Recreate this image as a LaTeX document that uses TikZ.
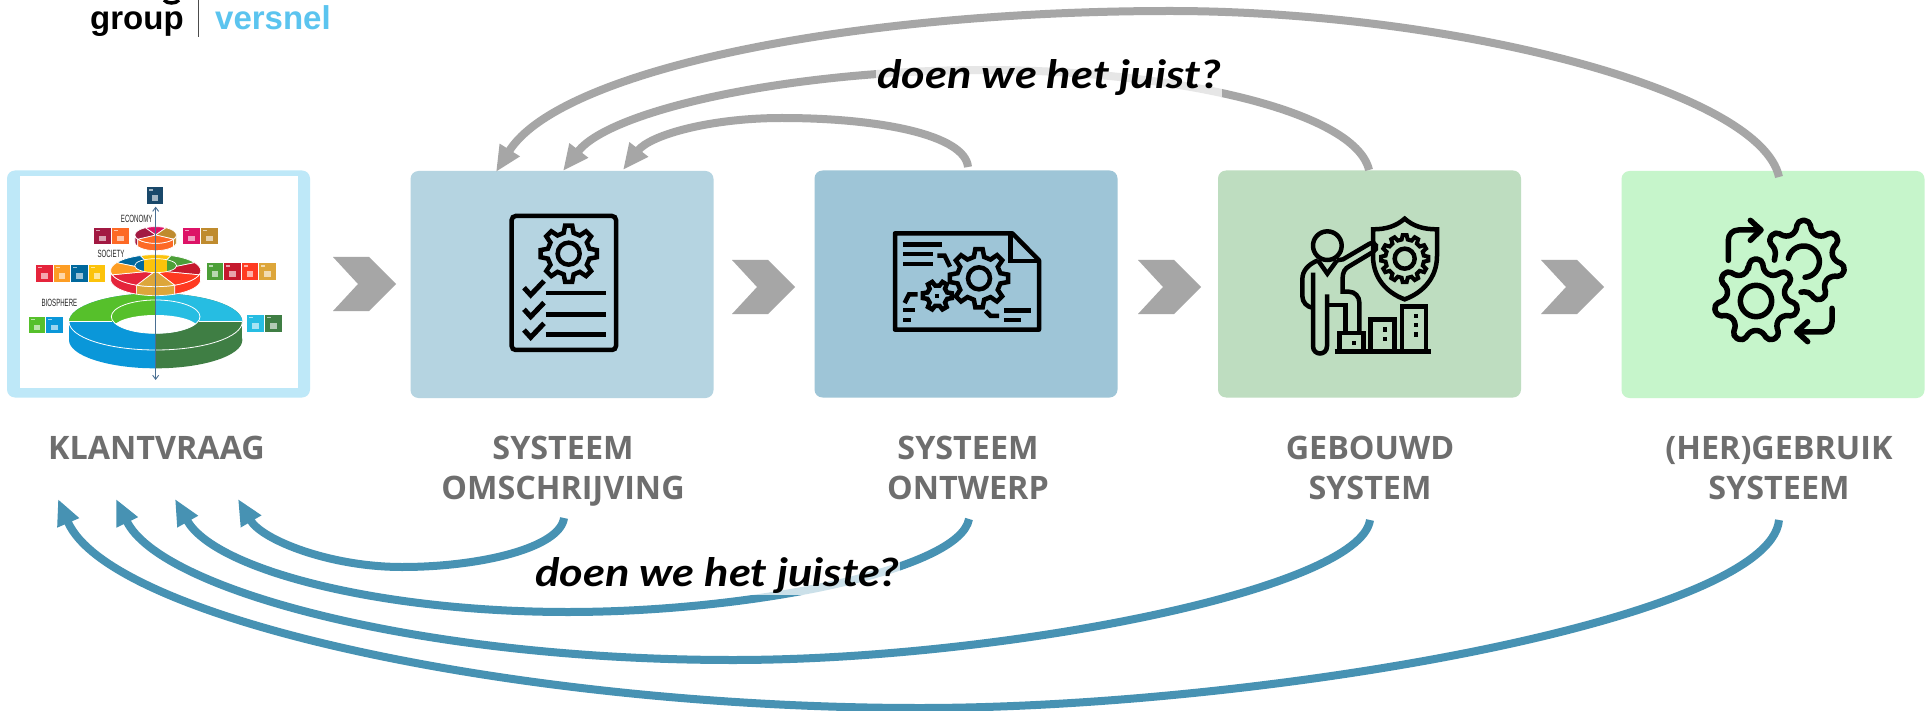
\documentclass[tikz,border=0pt]{standalone}
\usepackage{fontspec}
\usetikzlibrary{arrows.meta}
\setmainfont{Open Sans}
\newfontfamily\logofont{Liberation Sans}
\newfontfamily\handfont{Lato}
\definecolor{boxa}{HTML}{BEE8F8}
\definecolor{boxb}{HTML}{B5D4E1}
\definecolor{boxc}{HTML}{9EC5D7}
\definecolor{boxd}{HTML}{BEDDC0}
\definecolor{boxe}{HTML}{C6F5CB}
\definecolor{greyarrow}{HTML}{A6A6A6}
\definecolor{bluearrow}{HTML}{4792B3}
\definecolor{labelgrey}{HTML}{6E6E6E}
\definecolor{logoblue}{HTML}{5BC4EF}
\definecolor{HTMLblue}{HTML}{0A97D9}
\definecolor{HTMLgreen}{HTML}{56C02B}
\definecolor{HTMLdark}{HTML}{3F7E44}
\definecolor{HTMLcyan}{HTML}{26BDE2}
\definecolor{HTMLred}{HTML}{E5243B}
\definecolor{HTMLgold}{HTML}{DDA63A}
\definecolor{HTMLflame}{HTML}{FF3A21}
\definecolor{HTMLyellow}{HTML}{FCC30B}
\definecolor{HTMLsea}{HTML}{00689D}
\definecolor{HTMLgrass}{HTML}{4C9F38}
\definecolor{HTMLcrim}{HTML}{C5192D}
\definecolor{HTMLamber}{HTML}{FD9D24}
\definecolor{HTMLmaroon}{HTML}{A21942}
\definecolor{HTMLorange}{HTML}{FD6925}
\definecolor{HTMLochre}{HTML}{BF8B2E}
\definecolor{HTMLpink}{HTML}{DD1367}
\definecolor{HTMLaxis}{HTML}{4A6F92}
\definecolor{HTMLnavy}{HTML}{19486A}
\tikzset{
  stagebox/.style={minimum width=303pt,minimum height=227pt,inner sep=0pt,rounded corners=8pt,draw=none},
  stagelabel/.style={font=\bfseries\fontsize{32.3}{39.5}\selectfont,text=labelgrey,align=center,inner sep=0pt,anchor=north},
  loopgrey/.style={line width=8pt,draw=greyarrow,-{Triangle[length=26pt,width=22pt]}},
  loopblue/.style={line width=8pt,draw=bluearrow,-{Triangle[length=26pt,width=22pt]}},
  chevronshape/.style={fill=greyarrow,draw=none},
  iconline/.style={draw=black,line width=4.5pt,miter limit=10,fill=none},
  handtext/.style={font=\handfont\bfseries\itshape\fontsize{39}{39}\selectfont,text=black,fill=white,fill opacity=.72,text opacity=1,inner sep=1pt,xscale=1.16},
  cakelabel/.style={font=\logofont\fontsize{10.5}{10.5}\selectfont,text=black!85,inner sep=0pt,xscale=.58},
  logotext/.style={font=\logofont\bfseries\fontsize{33}{33}\selectfont,inner sep=0pt,anchor=base west}
}
% cx cy rout rin teeth rotation
\newcommand\gearicon[7][]{%
  \begin{scope}[shift={(#2,#3)}]
    \pgfmathsetmacro\gst{360/#6}
    \draw[iconline,#1] ({#7-.30*\gst}:#5)
      \foreach \k in {1,...,#6} {
        -- ({#7+(\k-1)*\gst-.30*\gst}:#5)
        -- ({#7+(\k-1)*\gst-.16*\gst}:#4)
        -- ({#7+(\k-1)*\gst+.16*\gst}:#4)
        -- ({#7+(\k-1)*\gst+.30*\gst}:#5)
      } -- cycle;
  \end{scope}}
\newcommand\chevronat[2]{% left x, top y
  \fill[chevronshape] (#1,#2) -- ++(36,0) -- ++(27,27) -- ++(-27,27) -- ++(-36,0) -- ++(25,-27) -- cycle;}
\newcommand\sdgtile[3]{%
  \fill[#3] (#1,#2) rectangle ++(50,50);
  \fill[white,opacity=.6] ({#1+6},{#2+6}) rectangle ++(12,4);
  \fill[white,opacity=.6] ({#1+15},{#2+24}) rectangle ++(20,17);}
% cx cy rx ry a1 a2 colour
\newcommand\cakewedge[7]{%
  \filldraw[fill=#7,draw=white,line width=.7pt] (#1,#2) -- plot[domain=#5:#6,samples=14] ({#1+#3*cos(\x)},{#2+#4*sin(\x)}) -- cycle;}
% cx cy rx ry a1 a2 colour thickness
\newcommand\cakeside[8]{%
  \filldraw[fill=#7,draw=white,line width=.7pt] plot[domain=#5:#6,samples=14] ({#1+#3*cos(\x)},{#2+#4*sin(\x)}) -- plot[domain=#6:#5,samples=14] ({#1+#3*cos(\x)},{#2+#8+#4*sin(\x)}) -- cycle;}
\begin{document}
\begin{tikzpicture}[x=1pt,y=-1pt]
\useasboundingbox (0,0) rectangle (1932,711);
\fill[white] (0,0) rectangle (1932,711);

% logo
\draw[black,line width=3.5pt] (164,0) .. controls (167,4) and (176,4) .. (179,0);
\node[logotext,text=black] (lgroup) at (90,30) {group};
\draw[black!70,line width=1pt] (198,0) -- (198,37);
\node[logotext,text=logoblue] (lversnel) at (215,30) {versnel};

% boxes
\node[stagebox,fill=boxa] (box1) at (158.5,284) {};
\node[stagebox,fill=boxb] (box2) at (562,284.5) {};
\node[stagebox,fill=boxc] (box3) at (966,284) {};
\node[stagebox,fill=boxd] (box4) at (1369.5,284) {};
\node[stagebox,fill=boxe] (box5) at (1773,284.5) {};

% chevrons
\chevronat{333}{257}
\chevronat{732}{260}
\chevronat{1138}{260}
\chevronat{1541}{260}

% SDG cake picture
\begin{scope}[scale=1/3]
  \fill[white] (60,528) rectangle (895,1165);
  % biosphere
  \begin{scope}
    \clip (0,0) rectangle (467,1300);
    \fill[HTMLblue] (467,1020) ellipse [x radius=260,y radius=85];
    \fill[HTMLblue] (207,965) rectangle (467,1020);
    \fill[HTMLblue] (467,965) ellipse [x radius=260,y radius=85];
    \begin{scope}
      \clip (0,0) rectangle (467,965);
      \fill[HTMLgreen] (467,965) ellipse [x radius=260,y radius=85];
    \end{scope}
  \end{scope}
  \begin{scope}
    \clip (467,0) rectangle (900,1300);
    \fill[HTMLdark] (467,1020) ellipse [x radius=260,y radius=85];
    \fill[HTMLdark] (467,965) rectangle (727,1020);
    \fill[HTMLdark] (467,965) ellipse [x radius=260,y radius=85];
    \begin{scope}
      \clip (467,0) rectangle (900,965);
      \fill[HTMLcyan] (467,965) ellipse [x radius=260,y radius=85];
    \end{scope}
  \end{scope}
  \begin{scope}
    \clip (150,965) rectangle (800,1100);
    \draw[white,line width=.8pt] (467,965) ellipse [x radius=260,y radius=85];
  \end{scope}
  \begin{scope}
    \clip (467,950) ellipse [x radius=133,y radius=50];
    \fill[HTMLgreen] (300,880) rectangle (467,1010);
    \fill[HTMLcyan] (467,880) rectangle (620,1010);
    \fill[white] (467,985) ellipse [x radius=128,y radius=40];
  \end{scope}
  \draw[white,line width=.8pt] (467,950) ellipse [x radius=133,y radius=50];
  \draw[white,line width=.8pt] (207,963) -- (336,963) (598,963) -- (727,963);
  % society
  \cakeside{467}{812}{135}{48}{115}{175}{HTMLred}{27}
  \cakeside{467}{812}{135}{48}{65}{115}{HTMLgold}{27}
  \cakeside{467}{812}{135}{48}{5}{65}{HTMLflame}{27}
  \cakewedge{467}{812}{135}{48}{-110}{-70}{HTMLyellow}
  \cakewedge{467}{812}{135}{48}{-150}{-110}{HTMLsea}
  \cakewedge{467}{812}{135}{48}{-70}{-30}{HTMLgrass}
  \cakewedge{467}{812}{135}{48}{-30}{15}{HTMLcrim}
  \cakewedge{467}{812}{135}{48}{15}{65}{HTMLflame}
  \cakewedge{467}{812}{135}{48}{65}{115}{HTMLgold}
  \cakewedge{467}{812}{135}{48}{115}{165}{HTMLred}
  \cakewedge{467}{812}{135}{48}{165}{210}{HTMLamber}
  \begin{scope}
    \clip (467,797) ellipse [x radius=63,y radius=21];
    \fill[HTMLsea] (400,770) rectangle (433,825);
    \fill[HTMLyellow] (433,770) rectangle (501,825);
    \fill[HTMLgrass] (501,770) rectangle (535,825);
  \end{scope}
  \draw[white,line width=.7pt] (467,797) ellipse [x radius=63,y radius=21];
  % economy
  \cakeside{467}{705}{62}{25}{150}{180}{HTMLmaroon}{22}
  \cakeside{467}{705}{62}{25}{30}{150}{HTMLorange}{22}
  \cakeside{467}{705}{62}{25}{0}{30}{HTMLochre}{22}
  \cakewedge{467}{705}{62}{25}{-120}{-60}{HTMLpink}
  \cakewedge{467}{705}{62}{25}{-60}{30}{HTMLochre}
  \cakewedge{467}{705}{62}{25}{30}{150}{HTMLorange}
  \cakewedge{467}{705}{62}{25}{150}{240}{HTMLmaroon}
  % axis
  \draw[HTMLaxis,line width=.9pt,{Straight Barb[length=4pt,width=6pt]}-{Straight Barb[length=4pt,width=6pt]}] (467,620) -- (467,1140);
  % tiles
  \sdgtile{440}{562}{HTMLnavy}
  \sdgtile{283}{683}{HTMLmaroon}
  \sdgtile{336}{683}{HTMLorange}
  \sdgtile{549}{683}{HTMLpink}
  \sdgtile{603}{683}{HTMLochre}
  \sdgtile{108}{795}{HTMLred}
  \sdgtile{161}{795}{HTMLamber}
  \sdgtile{213}{795}{HTMLsea}
  \sdgtile{266}{795}{HTMLyellow}
  \sdgtile{620}{790}{HTMLgrass}
  \sdgtile{673}{790}{HTMLcrim}
  \sdgtile{725}{790}{HTMLflame}
  \sdgtile{778}{790}{HTMLgold}
  \sdgtile{86}{950}{HTMLgreen}
  \sdgtile{139}{950}{HTMLblue}
  \sdgtile{742}{945}{HTMLcyan}
  \sdgtile{795}{945}{HTMLdark}
\end{scope}
\node[cakelabel] (leco) at (136.7,219) {ECONOMY};
\node[cakelabel] (lsoc) at (111,253.5) {SOCIETY};
\node[cakelabel] (lbio) at (59.5,302.5) {BIOSPHERE};

% icon: checklist document
\begin{scope}[shift={(410,171)},scale=1/3]
  \draw[iconline,rounded corners=4pt] (305,135) rectangle (618,537);
  \gearicon{476}{248}{85}{64}{8}{-90}
  \draw[iconline] (476,248) circle (33);
  \draw[iconline,line width=5pt] (342,350) -- (362,372) -- (402,330);
  \draw[iconline,line width=5pt] (342,415) -- (362,437) -- (402,395);
  \draw[iconline,line width=5pt] (342,477) -- (362,499) -- (402,457);
  \draw[iconline] (407,366) -- (587,366);
  \draw[iconline] (407,431) -- (587,431);
  \draw[iconline] (407,491) -- (587,491);
\end{scope}

% icon: design drawing
\begin{scope}[shift={(814,171)},scale=1/3]
  \draw[iconline,line join=round] (243,187) -- (595,187) -- (675,268) -- (675,476) -- (243,476) -- cycle;
  \draw[iconline] (590,187) -- (590,270) -- (675,270);
  \draw[iconline] (267,220) -- (385,220);
  \draw[iconline] (267,249) -- (357,249);
  \draw[iconline] (267,279) -- (357,279);
  \draw[iconline] (370,254) -- (392,254) -- (408,287);
  \gearicon{495}{322}{88}{66}{8}{-90}
  \draw[iconline] (495,322) circle (33);
  \gearicon{370}{374}{44}{31}{6}{-60}
  \fill[black] (364,368) rectangle (376,380);
  \draw[iconline] (272,396) -- (285,370) -- (311,370);
  \draw[iconline] (267,417) -- (304,417);
  \draw[iconline] (267,447) -- (290,447);
  \draw[iconline] (515,420) -- (530,435) -- (555,435);
  \draw[iconline] (570,418) -- (650,418);
  \draw[iconline] (570,447) -- (620,447);
\end{scope}

% icon: person, shield and buildings
\begin{scope}[shift={(1218,171)},scale=1/3,iconline/.append style={line width=4.5pt}]
  \draw[iconline] (328,224) circle (43);
  \draw[iconline] (300,268) .. controls (270,280) and (253,300) .. (253,325) -- (253,375) .. controls (253,395) and (268,408) .. (283,410);
  \draw[iconline] (285,305) -- (285,525) .. controls (285,555) and (327,555) .. (327,525) -- (327,370);
  \draw[iconline] (327,402) -- (383,402) -- (383,483);
  \draw[iconline] (300,268) -- (328,308) -- (357,268);
  \draw[iconline] (357,268) -- (375,265) -- (455,218) .. controls (475,208) and (482,235) .. (465,243) -- (395,285) .. controls (380,292) and (374,305) .. (374,320) -- (374,362) -- (392,362) .. controls (412,362) and (424,378) .. (424,395) -- (424,483);
  \draw[iconline] (560,143) .. controls (585,165) and (615,175) .. (657,175) -- (657,255) .. controls (657,320) and (615,365) .. (560,385) .. controls (505,365) and (465,320) .. (465,255) -- (465,175) .. controls (505,175) and (535,165) .. (560,143) -- cycle;
  \gearicon[line width=4pt]{560}{263}{71}{58}{12}{-90}
  \draw[iconline] (560,263) circle (30);
  \draw[iconline,line width=5pt] (350,543) -- (638,543);
  \draw[iconline] (365,543) -- (365,486) -- (437,486) -- (437,543);
  \draw[iconline] (458,543) -- (458,445) -- (530,445) -- (530,543);
  \draw[iconline] (552,543) -- (552,406) -- (624,406) -- (624,543);
  \fill[black] (402,510) rectangle ++(13,13);
  \fill[black] (494,469) rectangle ++(13,13);
  \fill[black] (494,497) rectangle ++(13,13);
  \fill[black] (587,429) rectangle ++(13,13);
  \fill[black] (587,456) rectangle ++(13,13);
  \fill[black] (587,484) rectangle ++(13,13);
\end{scope}

% icon: two gears with arrows
\begin{scope}[shift={(1621,171)},scale=1/3,iconline/.append style={line width=5.5pt,line cap=round,line join=round}]
  \gearicon[rounded corners=5pt]{405}{390}{127}{90}{7}{-90}
  \draw[iconline] (405,390) circle (47);
  \begin{scope}[shift={(548,272)}]
    \draw[iconline,rounded corners=5pt] (183:88)
      \foreach \tth in {218.57,270,321.43,372.86,424.29} {
        -- ({\tth-15.4}:90) -- ({\tth-8.2}:125) -- ({\tth+8.2}:125) -- ({\tth+15.4}:90)
      } -- (455:92);
    \draw[iconline] plot[domain=192:445,samples=40,smooth] ({47*cos(\x)},{47*sin(\x)});
  \end{scope}
  \draw[iconline,rounded corners=10pt] (322,268) -- (322,177) -- (418,177);
  \draw[iconline] (388,148) -- (420,177) -- (388,208);
  \draw[iconline,rounded corners=10pt] (633,412) -- (633,483) -- (530,483);
  \draw[iconline] (560,452) -- (527,482) -- (560,512);
\end{scope}

% labels
\node[stagelabel] (l1) at (156.5,436) {KLANTVRAAG};
\node[stagelabel] (l2) at (563,436) {SYSTEEM\\OMSCHRIJVING};
\node[stagelabel] (l3) at (968,436) {SYSTEEM\\ONTWERP};
\node[stagelabel] (l4) at (1370,436) {GEBOUWD\\SYSTEM};
\node[stagelabel] (l5) at (1779,436) {(HER)GEBRUIK\\SYSTEEM};

% connector ends
\coordinate (ga0) at (968,167);
\coordinate (ga1) at (782,118);
\coordinate (ga2) at (623,170);
\coordinate (gb0) at (1369,170);
\coordinate (gb1) at (985,70);
\coordinate (gb2) at (563,171);
\coordinate (gc0) at (1779,177);
\coordinate (gc1) at (1170,11);
\coordinate (gc2) at (496,172);
\coordinate (ba0) at (564,518);
\coordinate (ba1) at (402,567);
\coordinate (ba2) at (238,499);
\coordinate (bb0) at (969,519);
\coordinate (bb1) at (568,612);
\coordinate (bb2) at (175,499);
\coordinate (bc0) at (1370,520);
\coordinate (bc1) at (733,660);
\coordinate (bc2) at (116,499);
\coordinate (bd0) at (1779,520);
\coordinate (bd1) at (920,708);
\coordinate (bd2) at (58,499);

% grey loops
\draw[loopgrey] (ga0) .. controls (965,135) and (880,118) .. (ga1) .. controls (710,118) and (650,135) .. (ga2);
\draw[loopgrey] (gb0) .. controls (1355,110) and (1170,70) .. (gb1) .. controls (790,70) and (610,110) .. (gb2);
\draw[loopgrey] (gc0) .. controls (1760,90) and (1450,11) .. (gc1) .. controls (850,11) and (560,70) .. (gc2);

% blue loops
\draw[loopblue] (ba0) .. controls (560,548) and (480,567) .. (ba1) .. controls (330,567) and (262,540) .. (ba2);
\draw[loopblue] (bb0) .. controls (960,570) and (750,612) .. (bb1) .. controls (380,612) and (215,570) .. (bb2);
\draw[loopblue] (bc0) .. controls (1360,590) and (1000,660) .. (bc1) .. controls (420,660) and (160,590) .. (bc2);
\draw[loopblue] (bd0) .. controls (1770,620) and (1260,708) .. (bd1) .. controls (520,708) and (110,620) .. (bd2);

% hand-written remarks
\node[handtext] (hjuist) at (1049,78) {doen we het juist?};
\node[handtext] (hjuiste) at (717,576) {doen we het juiste?};
\end{tikzpicture}
\end{document}
